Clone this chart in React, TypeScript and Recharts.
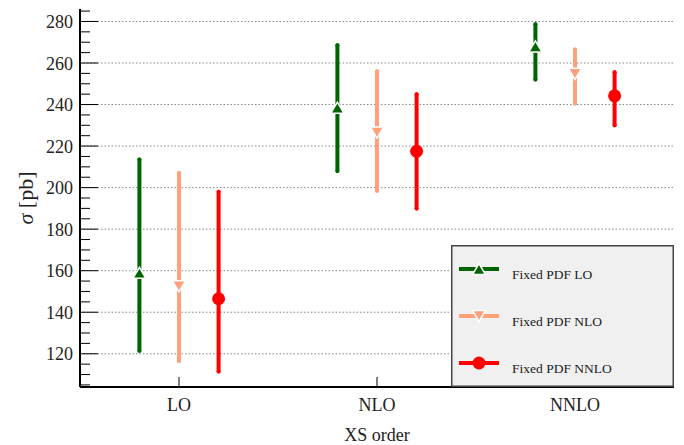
import {
  CartesianGrid,
  ComposedChart,
  ErrorBar,
  Label,
  Legend,
  Scatter,
  XAxis,
  YAxis,
} from 'recharts'

const categories = ['LO', 'NLO', 'NNLO']

// central values and [low, high] of each band
const fixedLO = [159, 238.5, 268]
const fixedLOBand = [
  [121.5, 213.5],
  [208, 268.5],
  [252, 278.7],
]
const fixedNLO = [152.5, 226.5, 254.8]
const fixedNLOBand = [
  [116.5, 207],
  [198.5, 256],
  [240.5, 266.5],
]
const fixedNNLO = [146.5, 217.5, 244.2]
const fixedNNLOBand = [
  [111.5, 198],
  [190, 245],
  [230, 255.5],
]

const yMajorTicks = [120, 140, 160, 180, 200, 220, 240, 260, 280]
const yAllTicks = Array.from({ length: 37 }, (_, i) => 105 + i * 5)

const FONT = "'Liberation Serif', 'DejaVu Serif', serif"
const textStyle = { fontFamily: FONT }

type Marker = 'up' | 'down' | 'circle'

interface SeriesDef {
  name: string
  color: string
  marker: Marker
  values: number[]
  bands: number[][]
  shift: number
}

const series: SeriesDef[] = [
  { name: 'Fixed PDF LO', color: '#006400', marker: 'up', values: fixedLO, bands: fixedLOBand, shift: -0.2 },
  { name: 'Fixed PDF NLO', color: '#FFA07A', marker: 'down', values: fixedNLO, bands: fixedNLOBand, shift: 0 },
  { name: 'Fixed PDF NNLO', color: '#FF0000', marker: 'circle', values: fixedNNLO, bands: fixedNNLOBand, shift: 0.2 },
]

function toPoints(s: SeriesDef) {
  return categories.map((_, i) => ({
    x: i + 0.5 + s.shift,
    y: s.values[i],
    err: [s.values[i] - s.bands[i][0], s.bands[i][1] - s.values[i]],
  }))
}

function MarkerGlyph({ cx, cy, kind, color }: { cx: number; cy: number; kind: Marker; color: string }) {
  if (kind === 'circle') return <circle cx={cx} cy={cy} r={6.5} fill={color} />
  const h = 5.5
  const w = 6.5
  const pts =
    kind === 'up'
      ? `${cx},${cy - h} ${cx - w},${cy + h} ${cx + w},${cy + h}`
      : `${cx},${cy + h} ${cx - w},${cy - h} ${cx + w},${cy - h}`
  return <polygon points={pts} fill={color} stroke="#fff" strokeWidth={1.5} />
}

function YTick({ x, y, payload }: any) {
  const major = payload.value % 20 === 0
  return (
    <g>
      <line x1={x} x2={x + (major ? 18 : 10)} y1={y} y2={y} stroke="#000" strokeWidth={1} />
      {major && (
        <text x={x - 7} y={y + 6.5} textAnchor="end" style={textStyle} fontSize={18} fill="#222">
          {payload.value}
        </text>
      )}
    </g>
  )
}

function XTick({ x, y, payload }: any) {
  return (
    <g>
      <line x1={x} x2={x} y1={y} y2={y - 10} stroke="#000" strokeWidth={1} />
      <text x={x} y={y + 24} textAnchor="middle" style={textStyle} fontSize={18} fill="#222">
        {categories[Math.floor(payload.value)]}
      </text>
    </g>
  )
}

function LegendBox() {
  return (
    <svg width={223} height={142} style={{ display: 'block' }}>
      <rect x={0.75} y={0.75} width={221.5} height={140.5} fill="#f0f0f0" stroke="#444" strokeWidth={1.5} />
      {series.map((s, i) => {
        const cy = 24 + i * 47
        return (
          <g key={s.name}>
            <line x1={8} x2={48} y1={cy} y2={cy} stroke={s.color} strokeWidth={4} />
            <MarkerGlyph cx={28} cy={cy} kind={s.marker} color={s.color} />
            <text x={61} y={cy + 10} style={textStyle} fontSize={13.5} fill="#222">
              {s.name}
            </text>
          </g>
        )
      })}
    </svg>
  )
}

export default function App() {
  return (
    <div style={{ position: 'absolute', left: 0, top: 0, background: '#fff', fontFamily: FONT }}>
      <ComposedChart width={684} height={445} margin={{ top: 9, right: 10, left: 20, bottom: 0 }}>
        <CartesianGrid
          vertical={false}
          horizontalValues={yMajorTicks}
          stroke="#888"
          strokeDasharray="1.5 2"
        />
        <XAxis
          type="number"
          dataKey="x"
          domain={[0, 3]}
          ticks={[0.5, 1.5, 2.5]}
          interval={0}
          height={58}
          tickSize={0}
          tickMargin={0}
          tickLine={false}
          tick={<XTick />}
          axisLine={{ stroke: '#000', strokeWidth: 2 }}
          allowDataOverflow
        >
          <Label
            content={() => (
              <text x={377} y={441} textAnchor="middle" style={textStyle} fontSize={18} fill="#222">
                XS order
              </text>
            )}
          />
        </XAxis>
        <XAxis
          xAxisId="top"
          orientation="top"
          type="number"
          domain={[0, 3]}
          height={0}
          tick={false}
          tickLine={false}
          axisLine={{ stroke: '#555', strokeWidth: 1.5 }}
        />
        <YAxis
          type="number"
          dataKey="y"
          domain={[104, 286]}
          ticks={yAllTicks}
          interval={0}
          width={60}
          tickSize={0}
          tickMargin={0}
          tickLine={false}
          tick={<YTick />}
          axisLine={{ stroke: '#000', strokeWidth: 2 }}
          allowDataOverflow
        >
          <Label
            content={() => (
              <text
                x={33}
                y={198}
                transform="rotate(-90 33 198)"
                textAnchor="middle"
                style={textStyle}
                fontSize={22}
                fill="#222"
              >
                <tspan fontStyle="italic">σ</tspan> [pb]
              </text>
            )}
          />
        </YAxis>
        <YAxis
          yAxisId="right"
          orientation="right"
          type="number"
          domain={[104, 286]}
          width={0}
          tick={false}
          tickLine={false}
          axisLine={{ stroke: '#555', strokeWidth: 1.5 }}
        />
        {series.map((s) => (
          <Scatter
            key={s.name}
            name={s.name}
            data={toPoints(s)}
            fill={s.color}
            isAnimationActive={false}
            shape={(p: any) => <MarkerGlyph cx={p.cx} cy={p.cy} kind={s.marker} color={s.color} />}
          >
            <ErrorBar
              dataKey="err"
              direction="y"
              width={0}
              stroke={s.color}
              strokeWidth={4}
              strokeLinecap="round"
              isAnimationActive={false}
            />
          </Scatter>
        ))}
        <Legend
          layout="horizontal"
          verticalAlign="middle"
          align="center"
          wrapperStyle={{ left: 451, top: 245, width: 223, height: 142 }}
          content={() => <LegendBox />}
        />
      </ComposedChart>
    </div>
  )
}
